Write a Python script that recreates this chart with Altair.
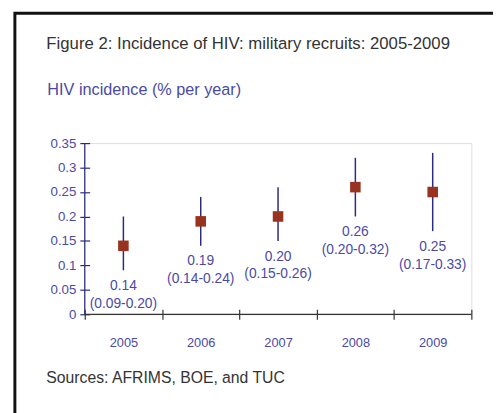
import altair as alt
import pandas as pd

years = ["2005", "2006", "2007", "2008", "2009"]
incidence = [0.14, 0.19, 0.20, 0.26, 0.25]
lower = [0.09, 0.14, 0.15, 0.20, 0.17]
upper = [0.20, 0.24, 0.26, 0.32, 0.33]
y_ticks = [0, 0.05, 0.1, 0.15, 0.2, 0.25, 0.3, 0.35]
title_text = "Figure 2: Incidence of HIV: military recruits: 2005-2009"
subtitle_text = "HIV incidence (% per year)"
source_text = "Sources:  AFRIMS, BOE, and TUC"

df = pd.DataFrame({
    "year": years,
    "inc": incidence,
    "lo": lower,
    "hi": upper,
})
df["label"] = [f"{m:.2f}\n({l:.2f}-{h:.2f})" for m, l, h in zip(incidence, lower, upper)]
one = pd.DataFrame({"k": [0]})

W, H = 393, 174
NAVY = "#2a2a80"
TXT = "#4a4aa6"
FONT = "Liberation Sans"

xaxis = alt.Axis(domain=False, offset=-5, tickSize=10, tickBand="extent",
                 tickColor="#333333", tickWidth=1.2, labelAngle=0,
                 labelColor=TXT, labelFont=FONT, labelFontSize=13,
                 labelPadding=18, title=None)
yaxis = alt.Axis(values=y_ticks, domain=False, offset=-5, tickSize=10,
                 tickColor=NAVY, tickWidth=1.2, grid=False, labelOverlap=False,
                 labelColor=TXT, labelFont=FONT, labelFontSize=13.5,
                 labelPadding=4, format="~g", title=None)
xscale = alt.Scale(domain=years, paddingInner=0, paddingOuter=0)
yscale = alt.Scale(domain=[0, 0.35], nice=False, zero=True)

def X():
    return alt.X("year:N", sort=years, scale=xscale, axis=xaxis)

base = alt.Chart(df)

bars = base.mark_rule(color=NAVY, strokeWidth=1.5).encode(
    x=X(),
    y=alt.Y("lo:Q", scale=yscale, axis=yaxis),
    y2="hi:Q",
)

pts = base.mark_square(color="#9a3220", size=115, opacity=1).encode(
    x=X(), y=alt.Y("inc:Q", scale=yscale, axis=yaxis))

labels = base.mark_text(baseline="top", dy=9, color=TXT, font=FONT,
                        fontSize=14, lineBreak="\n", lineHeight=18).encode(
    x=X(), y=alt.Y("lo:Q", scale=yscale, axis=yaxis), text="label:N")

yline = alt.Chart(one).mark_rule(color=NAVY, strokeWidth=1.2).encode(
    x=alt.value(0), y=alt.value(0), y2=alt.value(H))
xline = alt.Chart(one).mark_rule(color="#333333", strokeWidth=1.2).encode(
    x=alt.value(0), x2=alt.value(W), y=alt.value(H))

frame = alt.Chart(one).mark_rect(fill=None, stroke="#111111", strokeWidth=3).encode(
    x=alt.value(-71), x2=alt.value(440), y=alt.value(-132), y2=alt.value(300))

title = alt.Chart(one).mark_text(align="left", baseline="middle", color="#333333",
                                 font=FONT, fontSize=17).encode(
    x=alt.value(-39), y=alt.value(-101), text=alt.value(title_text))
subtitle = alt.Chart(one).mark_text(align="left", baseline="middle", color=TXT,
                                    font=FONT, fontSize=16.5).encode(
    x=alt.value(-38), y=alt.value(-54), text=alt.value(subtitle_text))
source = alt.Chart(one).mark_text(align="left", baseline="middle", color="#333333",
                                  font=FONT, fontSize=16).encode(
    x=alt.value(-39), y=alt.value(239), text=alt.value(source_text))

chart = alt.layer(frame, yline, xline, bars, pts, labels, title, subtitle, source).properties(
    width=W, height=H,
    autosize=alt.AutoSizeParams(type="none"),
    padding={"left": 78, "top": 134, "right": 22, "bottom": 97},
).configure_view(stroke=None).configure(background="white")

chart.save("out.html", embed_options={"renderer": "svg", "actions": False})
